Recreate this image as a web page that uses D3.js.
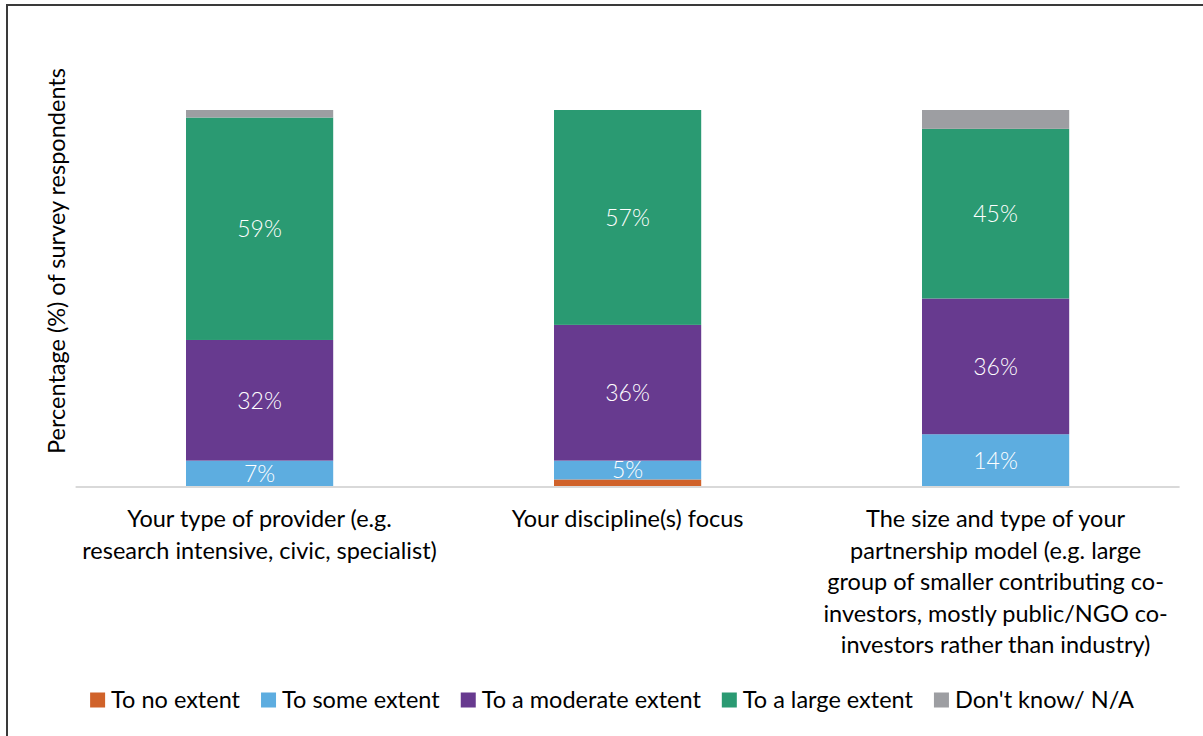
<!DOCTYPE html>
<html>
<head>
<meta charset="utf-8">
<script src="https://cdn.jsdelivr.net/npm/d3@7"></script>
<style>
  html, body { margin: 0; padding: 0; background: #ffffff; }
  svg { display: block; font-family: Lato, "Open Sans", sans-serif; }
</style>
</head>
<body>
<svg id="chart" width="1203" height="736"></svg>
<script>
// Survey categories (label lines kept as drawn)
const categories = [
  ["Your type of provider (e.g.", "research intensive, civic, specialist)"],
  ["Your discipline(s) focus"],
  ["The size and type of your", "partnership model (e.g. large", "group of smaller contributing co-", "investors, mostly public/NGO co-", "investors rather than industry)"]
];

// Response shares, % of respondents
const seriesNames = ["To no extent", "To some extent", "To a moderate extent", "To a large extent", "Don't know/ N/A"];
const noExtent = [0, 2, 0];
const someExtent = [7, 5, 14];
const moderateExtent = [32, 36, 36];
const largeExtent = [59, 57, 45];
const dontKnow = [2, 0, 5];
const seriesColors = ["#D0622A", "#5DADE0", "#673A8F", "#2A9A72", "#9D9EA2"];
const labelledSeries = ["To some extent", "To a moderate extent", "To a large extent"];

const rows = categories.map((c, i) => ({
  key: i,
  "To no extent": noExtent[i],
  "To some extent": someExtent[i],
  "To a moderate extent": moderateExtent[i],
  "To a large extent": largeExtent[i],
  "Don't know/ N/A": dontKnow[i]
}));

const svg = d3.select("#chart");
const fontSize = 23.5;

// outer frame
svg.append("rect")
  .attr("x", 7).attr("y", 5).attr("width", 1210).attr("height", 760)
  .attr("fill", "none").attr("stroke", "#3a3a3a").attr("stroke-width", 2);

const x = d3.scaleBand()
  .domain(d3.range(categories.length))
  .range([75.6, 1179.6])
  .paddingInner(0.6).paddingOuter(0.3);

const y = d3.scaleLinear().domain([0, 100]).range([487, 110]);

const color = d3.scaleOrdinal().domain(seriesNames).range(seriesColors);

const stacked = d3.stack().keys(seriesNames)(rows);

const layers = svg.append("g").selectAll("g")
  .data(stacked).join("g")
  .attr("fill", d => color(d.key));

layers.selectAll("rect")
  .data(d => d)
  .join("rect")
  .attr("x", d => x(d.data.key))
  .attr("width", x.bandwidth())
  .attr("y", d => y(d[1]))
  .attr("height", d => y(d[0]) - y(d[1]));

// value labels
const labelG = svg.append("g");
stacked.filter(s => labelledSeries.includes(s.key)).forEach(s => {
  s.forEach(d => {
    const v = d[1] - d[0];
    if (v <= 0) return;
    labelG.append("text")
      .attr("x", x(d.data.key) + x.bandwidth() / 2)
      .attr("y", (y(d[0]) + y(d[1])) / 2)
      .attr("dy", "0.36em")
      .attr("text-anchor", "middle")
      .attr("fill", "#ffffff")
      .attr("font-weight", 300)
      .attr("font-size", 23)
      .text(v + "%");
  });
});

// baseline axis
svg.append("line")
  .attr("x1", x.range()[0]).attr("x2", x.range()[1])
  .attr("y1", y(0)).attr("y2", y(0))
  .attr("stroke", "#d9d9d9").attr("stroke-width", 2);

// category labels
const catG = svg.append("g");
categories.forEach((lines, i) => {
  const t = catG.append("text")
    .attr("text-anchor", "middle")
    .attr("font-size", fontSize)
    .attr("fill", "#000");
  lines.forEach((ln, j) => {
    t.append("tspan")
      .attr("x", x(i) + x.bandwidth() / 2)
      .attr("y", 527 + j * 31.6)
      .text(ln);
  });
});

// y axis title
svg.append("text")
  .attr("transform", "translate(65,261) rotate(-90)")
  .attr("text-anchor", "middle")
  .attr("font-size", fontSize)
  .attr("fill", "#000")
  .text("Percentage (%) of survey respondents");

// legend
const legend = svg.append("g");
const items = seriesNames.map(n => {
  const g = legend.append("g");
  g.append("rect").attr("width", 15).attr("height", 15).attr("y", -7.5).attr("fill", color(n));
  const t = g.append("text").attr("x", 21).attr("dy", "0.36em")
    .attr("font-size", fontSize).attr("fill", "#000").text(n);
  return { g, w: 21 + t.node().getComputedTextLength() };
});
const gap = 21;
const total = d3.sum(items, d => d.w) + gap * (items.length - 1);
let cx = 612 - total / 2;
items.forEach(it => {
  it.g.attr("transform", `translate(${cx},700)`);
  cx += it.w + gap;
});
</script>
</body>
</html>
